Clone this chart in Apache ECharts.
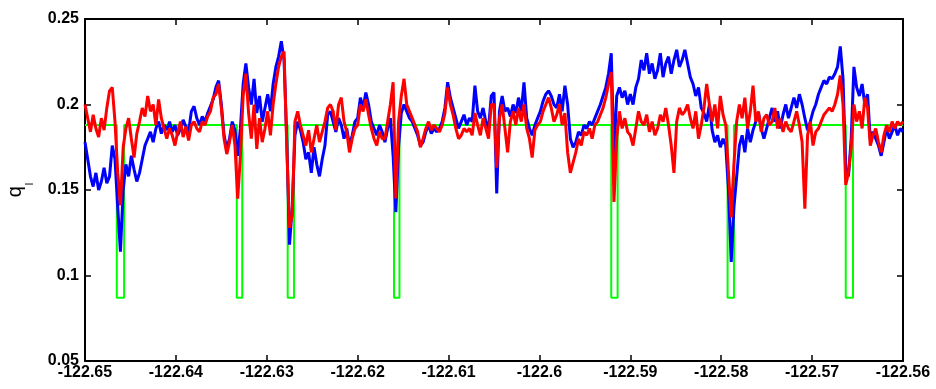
<!DOCTYPE html>
<html>
<head>
<meta charset="utf-8">
<script src="https://cdn.jsdelivr.net/npm/echarts@6/dist/echarts.min.js"></script>
<style>
html,body{margin:0;padding:0;background:#fff;}
#chart{width:936px;height:389px;}
</style>
</head>
<body>
<div id="chart"></div>
<script>
// Sampling of the longitude axis for the two measured traces
const lonStart = -122.65;
const lonStep = 0.0003;

// Blue trace (q_l, series 1), one value per sample
const blueValues = [
  0.178, 0.168, 0.158, 0.152, 0.160, 0.150, 0.155, 0.163, 0.154, 0.158,
  0.176, 0.168, 0.140, 0.114, 0.150, 0.165, 0.158, 0.170, 0.162, 0.155,
  0.160, 0.168, 0.176, 0.180, 0.184, 0.178, 0.186, 0.190, 0.183, 0.188,
  0.185, 0.190, 0.184, 0.188, 0.182, 0.186, 0.191, 0.187, 0.184, 0.196,
  0.199, 0.192, 0.188, 0.193, 0.190, 0.195, 0.199, 0.203, 0.210, 0.214,
  0.200, 0.182, 0.174, 0.180, 0.190, 0.185, 0.170, 0.186, 0.212, 0.224,
  0.210, 0.200, 0.215, 0.195, 0.205, 0.190, 0.198, 0.206, 0.196, 0.212,
  0.222, 0.228, 0.237, 0.226, 0.180, 0.118, 0.140, 0.182, 0.190, 0.185,
  0.178, 0.168, 0.172, 0.160, 0.175, 0.165, 0.158, 0.168, 0.176, 0.194,
  0.196, 0.190, 0.184, 0.192, 0.188, 0.180, 0.186, 0.176, 0.182, 0.190,
  0.192, 0.204, 0.198, 0.207, 0.200, 0.190, 0.186, 0.182, 0.188, 0.184,
  0.178, 0.186, 0.192, 0.170, 0.137, 0.175, 0.195, 0.200, 0.196, 0.192,
  0.190, 0.186, 0.182, 0.176, 0.178, 0.184, 0.188, 0.183, 0.186, 0.184,
  0.186, 0.190, 0.198, 0.213, 0.204, 0.198, 0.192, 0.186, 0.190, 0.194,
  0.188, 0.192, 0.190, 0.211, 0.196, 0.192, 0.198, 0.190, 0.186, 0.205,
  0.207, 0.148, 0.196, 0.205, 0.196, 0.198, 0.193, 0.200, 0.195, 0.204,
  0.196, 0.213, 0.192, 0.186, 0.182, 0.188, 0.192, 0.196, 0.202, 0.206,
  0.208, 0.205, 0.200, 0.198, 0.206, 0.196, 0.211, 0.200, 0.180, 0.175,
  0.178, 0.184, 0.182, 0.188, 0.186, 0.190, 0.188, 0.192, 0.196, 0.200,
  0.205, 0.210, 0.218, 0.230, 0.170, 0.205, 0.210, 0.204, 0.208, 0.200,
  0.206, 0.200, 0.210, 0.215, 0.226, 0.220, 0.230, 0.218, 0.224, 0.215,
  0.220, 0.230, 0.216, 0.224, 0.228, 0.218, 0.226, 0.232, 0.222, 0.226,
  0.232, 0.224, 0.216, 0.212, 0.205, 0.210, 0.198, 0.195, 0.190, 0.200,
  0.185, 0.178, 0.182, 0.175, 0.180, 0.176, 0.150, 0.108, 0.140, 0.158,
  0.176, 0.182, 0.172, 0.186, 0.178, 0.185, 0.190, 0.195, 0.186, 0.180,
  0.186, 0.192, 0.198, 0.190, 0.196, 0.186, 0.194, 0.200, 0.192, 0.198,
  0.204, 0.198, 0.206, 0.200, 0.192, 0.185, 0.190, 0.196, 0.200, 0.206,
  0.210, 0.214, 0.212, 0.216, 0.215, 0.218, 0.222, 0.234, 0.215, 0.163,
  0.158, 0.180, 0.222, 0.210, 0.205, 0.212, 0.200, 0.206, 0.180, 0.184,
  0.180, 0.176, 0.170, 0.178, 0.186, 0.180, 0.184, 0.188, 0.182, 0.186,
  0.184
];

// Red trace (q_l, series 2), one value per sample
const redValues = [
  0.200, 0.192, 0.184, 0.194, 0.186, 0.181, 0.192, 0.185, 0.198, 0.208,
  0.210, 0.190, 0.160, 0.141, 0.175, 0.186, 0.192, 0.180, 0.169, 0.183,
  0.190, 0.198, 0.193, 0.205, 0.196, 0.200, 0.188, 0.203, 0.192, 0.186,
  0.180, 0.186, 0.182, 0.176, 0.184, 0.190, 0.181, 0.187, 0.179, 0.188,
  0.190, 0.186, 0.184, 0.190, 0.188, 0.193, 0.196, 0.204, 0.206, 0.212,
  0.198, 0.180, 0.171, 0.178, 0.188, 0.176, 0.145, 0.170, 0.205, 0.218,
  0.195, 0.180, 0.200, 0.174, 0.192, 0.178, 0.186, 0.196, 0.182, 0.200,
  0.212, 0.222, 0.228, 0.231, 0.175, 0.128, 0.135, 0.190, 0.196, 0.188,
  0.182, 0.176, 0.185, 0.172, 0.180, 0.188, 0.178, 0.184, 0.190, 0.198,
  0.200, 0.196, 0.185, 0.200, 0.204, 0.190, 0.184, 0.172, 0.180, 0.186,
  0.188, 0.200, 0.196, 0.203, 0.194, 0.186, 0.180, 0.176, 0.184, 0.180,
  0.180, 0.190, 0.200, 0.213, 0.145, 0.190, 0.205, 0.215, 0.200, 0.196,
  0.192, 0.188, 0.184, 0.175, 0.180, 0.186, 0.190, 0.185, 0.188, 0.186,
  0.184, 0.188, 0.195, 0.210, 0.200, 0.194, 0.186, 0.180, 0.182, 0.186,
  0.184, 0.186, 0.182, 0.195, 0.188, 0.182, 0.192, 0.186, 0.180, 0.200,
  0.200, 0.163, 0.192, 0.200, 0.186, 0.172, 0.190, 0.196, 0.188, 0.198,
  0.190, 0.200, 0.186, 0.180, 0.169, 0.185, 0.188, 0.190, 0.196, 0.200,
  0.204, 0.198, 0.190, 0.194, 0.200, 0.188, 0.195, 0.172, 0.160, 0.166,
  0.172, 0.180, 0.176, 0.184, 0.182, 0.186, 0.180, 0.188, 0.190, 0.194,
  0.198, 0.204, 0.212, 0.219, 0.143, 0.180, 0.196, 0.186, 0.192, 0.184,
  0.182, 0.176, 0.186, 0.196, 0.190, 0.188, 0.194, 0.184, 0.190, 0.182,
  0.186, 0.194, 0.190, 0.198, 0.188, 0.176, 0.160, 0.190, 0.198, 0.194,
  0.196, 0.200, 0.192, 0.186, 0.196, 0.180, 0.188, 0.198, 0.212, 0.200,
  0.190, 0.200, 0.186, 0.205, 0.194, 0.188, 0.160, 0.134, 0.165, 0.190,
  0.200, 0.192, 0.204, 0.186, 0.196, 0.211, 0.190, 0.196, 0.184, 0.192,
  0.194, 0.188, 0.190, 0.198, 0.186, 0.192, 0.184, 0.190, 0.186, 0.184,
  0.190, 0.196, 0.188, 0.178, 0.139, 0.182, 0.190, 0.176, 0.184, 0.186,
  0.190, 0.194, 0.196, 0.198, 0.196, 0.200, 0.206, 0.217, 0.200, 0.153,
  0.160, 0.175, 0.200, 0.190, 0.196, 0.186, 0.204, 0.198, 0.176, 0.182,
  0.186, 0.178, 0.172, 0.182, 0.188, 0.184, 0.190, 0.186, 0.190, 0.188,
  0.190
];

// Green reference step line: corner longitudes and levels
const greenLon = [
  -122.65,
  -122.6465, -122.6465, -122.6457, -122.6457,
  -122.6333, -122.6333, -122.6327, -122.6327,
  -122.6277, -122.6277, -122.6270, -122.6270,
  -122.6160, -122.6160, -122.6154, -122.6154,
  -122.5921, -122.5921, -122.5914, -122.5914,
  -122.5793, -122.5793, -122.5786, -122.5786,
  -122.5663, -122.5663, -122.5655, -122.5655,
  -122.56
];
const greenLevel = [
  0.188,
  0.188, 0.087, 0.087, 0.188,
  0.188, 0.087, 0.087, 0.188,
  0.188, 0.087, 0.087, 0.188,
  0.188, 0.087, 0.087, 0.188,
  0.188, 0.087, 0.087, 0.188,
  0.188, 0.087, 0.087, 0.188,
  0.188, 0.087, 0.087, 0.188,
  0.188
];

// Axis ticks
const xMin = -122.65, xMax = -122.56, xInterval = 0.01;
const yMin = 0.05, yMax = 0.25, yInterval = 0.05;

const blueData = blueValues.map((v, i) => [lonStart + i * lonStep, v]);
const redData = redValues.map((v, i) => [lonStart + i * lonStep, v]);
const greenData = greenLon.map((x, i) => [x, greenLevel[i]]);

const fontFam = 'Liberation Sans, Arial, sans-serif';
const labelStyle = { color: '#000', fontSize: 16, fontFamily: fontFam, fontWeight: 'bold' };
const frameLine = { show: true, onZero: false, lineStyle: { color: '#000', width: 2 } };
const tickIn = { show: true, inside: true, length: 6, lineStyle: { color: '#000', width: 1.5 } };

const chart = echarts.init(document.getElementById('chart'), null, { renderer: 'canvas' });
chart.setOption({
  animation: false,
  backgroundColor: '#fff',
  grid: { left: 85, right: 33, top: 19, bottom: 28, containLabel: false, outerBoundsMode: 'none' },
  xAxis: [
    {
      type: 'value', min: xMin, max: xMax, interval: xInterval, position: 'bottom',
      axisLine: frameLine, axisTick: tickIn, splitLine: { show: false },
      axisLabel: Object.assign({}, labelStyle, {
        margin: 4, showMinLabel: true, showMaxLabel: true, hideOverlap: false,
        formatter: v => String(parseFloat(v.toFixed(2)))
      })
    },
    {
      type: 'value', min: xMin, max: xMax, interval: xInterval, position: 'top',
      axisLine: frameLine, axisTick: tickIn, splitLine: { show: false },
      axisLabel: { show: false }
    }
  ],
  yAxis: [
    {
      type: 'value', min: yMin, max: yMax, interval: yInterval, position: 'left',
      axisLine: frameLine, axisTick: tickIn, splitLine: { show: false },
      axisLabel: Object.assign({}, labelStyle, {
        margin: 6, showMinLabel: true, showMaxLabel: true,
        formatter: v => String(parseFloat(v.toFixed(2)))
      }),
      name: '{q|q}{l|l}',
      nameLocation: 'middle',
      nameGap: 50,
      nameRotate: 90,
      nameTextStyle: {
        color: '#000', fontFamily: fontFam,
        rich: {
          q: { fontSize: 20, fontFamily: fontFam, color: '#000', verticalAlign: 'top', lineHeight: 20 },
          l: { fontSize: 11, fontFamily: fontFam, color: '#000', verticalAlign: 'bottom', lineHeight: 30, padding: [0, 0, 0, 1] }
        }
      }
    },
    {
      type: 'value', min: yMin, max: yMax, interval: yInterval, position: 'right',
      axisLine: frameLine, axisTick: tickIn, splitLine: { show: false },
      axisLabel: { show: false }
    }
  ],
  series: [
    {
      name: 'reference', type: 'line', data: greenData, showSymbol: false, symbol: 'none',
      lineStyle: { color: '#00ff00', width: 2 }, z: 1
    },
    {
      name: 'blue', type: 'line', data: blueData, showSymbol: false, symbol: 'none',
      lineStyle: { color: '#0000ff', width: 3 }, z: 2
    },
    {
      name: 'red', type: 'line', data: redData, showSymbol: false, symbol: 'none',
      lineStyle: { color: '#ff0000', width: 3 }, z: 3
    }
  ]
});
</script>
</body>
</html>
